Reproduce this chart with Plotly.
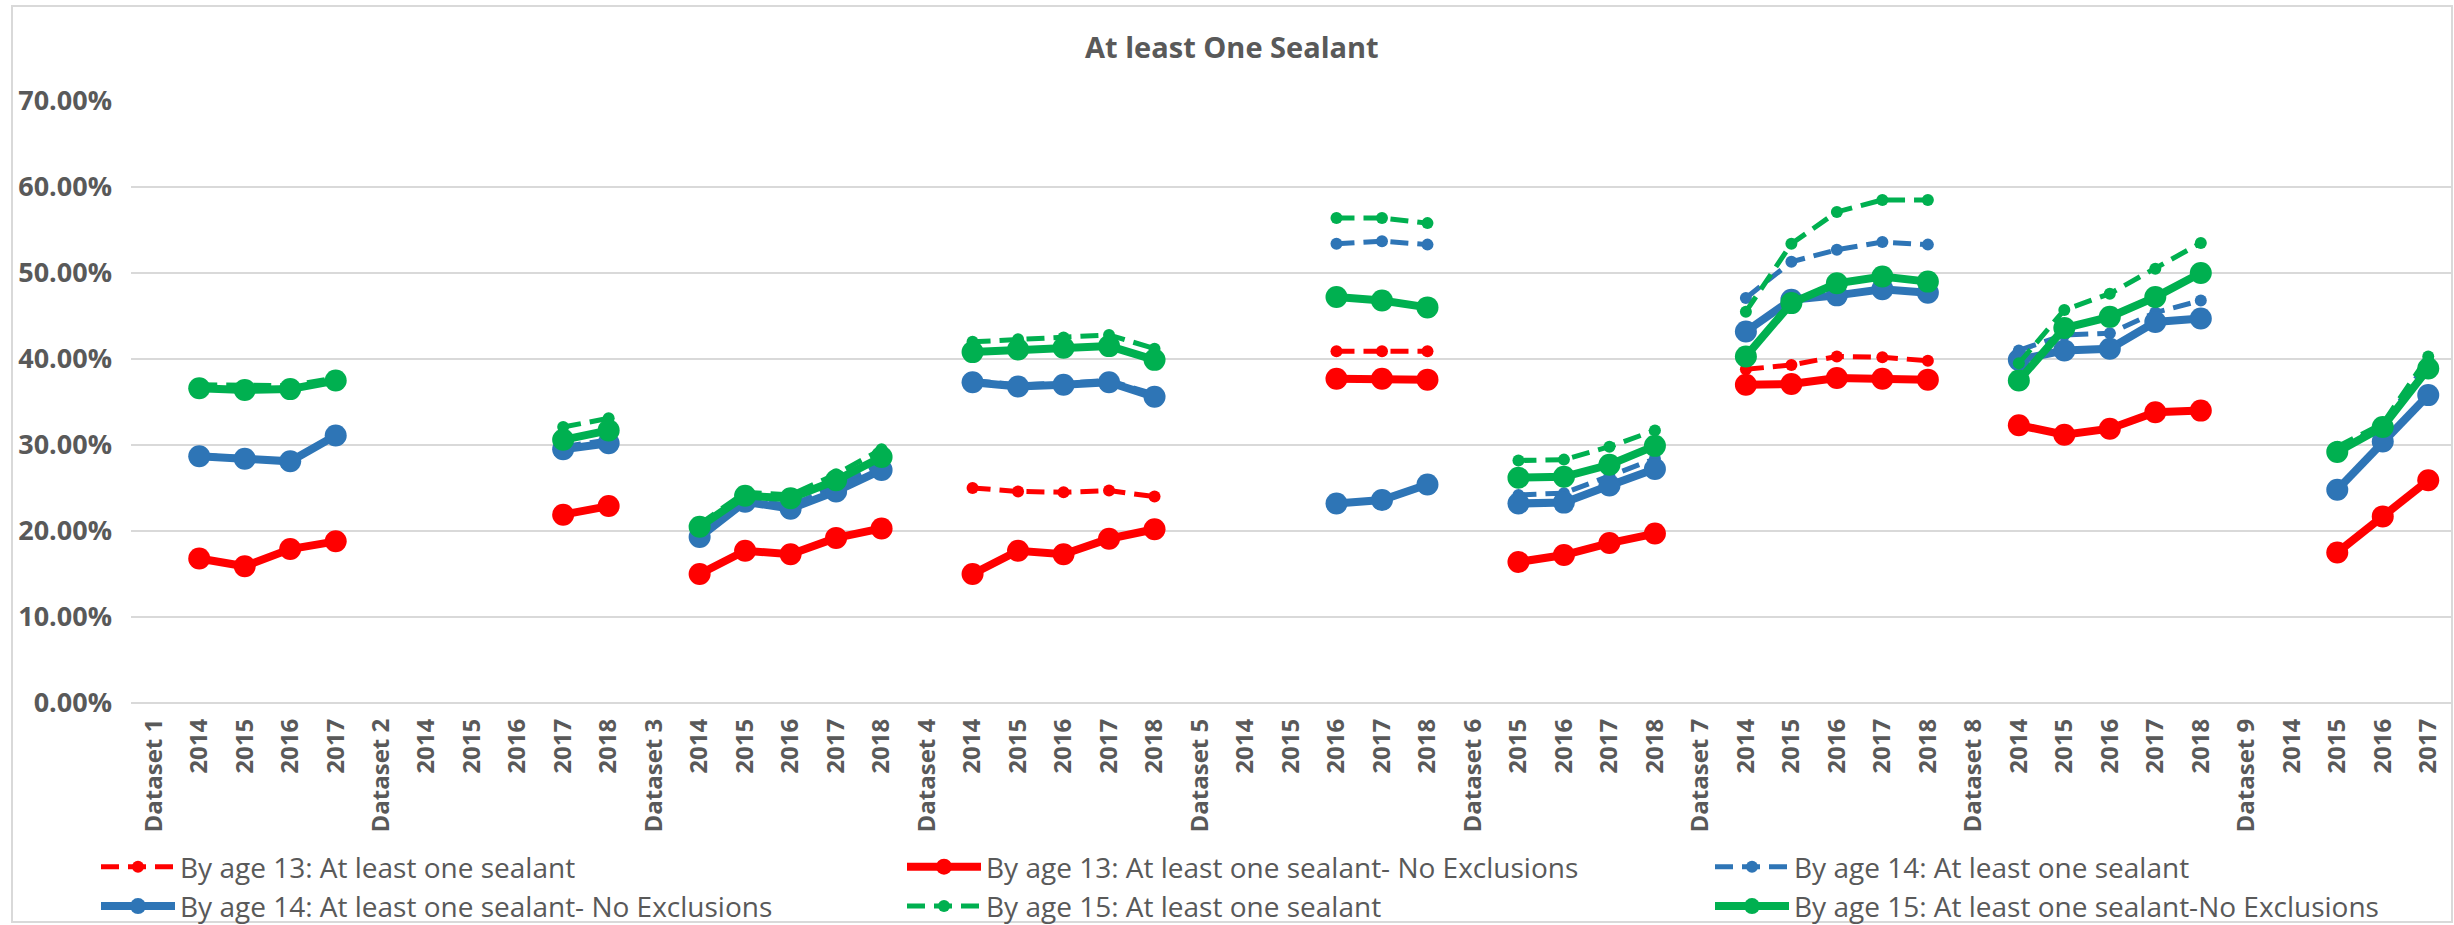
import plotly.graph_objects as go

# X-axis categories: each dataset label followed by its years
categories = [
    "Dataset 1", "2014", "2015", "2016", "2017",
    "Dataset 2", "2014", "2015", "2016", "2017", "2018",
    "Dataset 3", "2014", "2015", "2016", "2017", "2018",
    "Dataset 4", "2014", "2015", "2016", "2017", "2018",
    "Dataset 5", "2014", "2015", "2016", "2017", "2018",
    "Dataset 6", "2015", "2016", "2017", "2018",
    "Dataset 7", "2014", "2015", "2016", "2017", "2018",
    "Dataset 8", "2014", "2015", "2016", "2017", "2018",
    "Dataset 9", "2014", "2015", "2016", "2017",
]

N = None
# Percent values aligned with categories (None = no value / line break)
age13 = [N, N, N, N, N,
         N, N, N, N, N, N,
         N, N, N, N, N, N,
         N, 25.0, 24.6, 24.5, 24.7, 24.0,
         N, N, N, 40.9, 40.9, 40.9,
         N, N, N, N, N,
         N, 38.8, 39.3, 40.3, 40.2, 39.8,
         N, N, N, N, N, N,
         N, N, N, N, N]
age13_noexcl = [N, 16.8, 15.9, 17.9, 18.8,
                N, N, N, N, 21.9, 22.9,
                N, 15.0, 17.7, 17.3, 19.2, 20.3,
                N, 15.0, 17.7, 17.3, 19.1, 20.2,
                N, N, N, 37.7, 37.7, 37.6,
                N, 16.4, 17.2, 18.6, 19.7,
                N, 37.0, 37.1, 37.8, 37.7, 37.6,
                N, 32.3, 31.2, 31.9, 33.8, 34.0,
                N, N, 17.5, 21.7, 25.9]
age14 = [N, 28.8, 28.5, 28.2, 31.2,
         N, N, N, N, 29.8, 30.6,
         N, 19.6, 23.6, 23.0, 25.2, 27.8,
         N, 37.5, 37.0, 37.2, 37.5, 35.9,
         N, N, N, 53.4, 53.7, 53.3,
         N, 24.2, 24.4, 26.4, 28.4,
         N, 47.1, 51.3, 52.7, 53.6, 53.3,
         N, 41.0, 42.8, 43.0, 45.4, 46.8,
         N, N, 29.5, 32.3, 39.8]
age14_noexcl = [N, 28.7, 28.4, 28.1, 31.1,
                N, N, N, N, 29.5, 30.2,
                N, 19.3, 23.4, 22.6, 24.6, 27.1,
                N, 37.3, 36.8, 37.0, 37.3, 35.6,
                N, N, N, 23.2, 23.6, 25.4,
                N, 23.2, 23.3, 25.3, 27.2,
                N, 43.2, 46.9, 47.4, 48.1, 47.7,
                N, 39.9, 41.0, 41.2, 44.3, 44.7,
                N, N, 24.8, 30.4, 35.8]
age15 = [N, 37.0, 36.9, 36.9, 37.8,
         N, N, N, N, 32.1, 33.1,
         N, 20.8, 24.5, 24.2, 26.6, 29.5,
         N, 42.0, 42.3, 42.5, 42.8, 41.2,
         N, N, N, 56.4, 56.4, 55.8,
         N, 28.2, 28.3, 29.8, 31.7,
         N, 45.5, 53.4, 57.1, 58.5, 58.5,
         N, 39.5, 45.7, 47.6, 50.5, 53.5,
         N, N, 29.8, 32.5, 40.3]
age15_noexcl = [N, 36.6, 36.4, 36.5, 37.5,
                N, N, N, N, 30.6, 31.7,
                N, 20.5, 24.1, 23.8, 25.9, 28.6,
                N, 40.8, 41.1, 41.3, 41.5, 39.9,
                N, N, N, 47.2, 46.8, 46.0,
                N, 26.2, 26.3, 27.7, 29.9,
                N, 40.3, 46.5, 48.8, 49.6, 49.0,
                N, 37.5, 43.6, 44.9, 47.2, 50.0,
                N, N, 29.2, 32.1, 38.9]

RED, BLUE, GREEN = "#FF0000", "#2E75B6", "#00B050"
TEXT = "#595959"
FONT = "Open Sans"

W, H = 2454, 925
ML, MR, MT, MB = 131, 3, 101, 222
PW, PH = W - ML - MR, H - MT - MB

x = list(range(len(categories)))

series = [
    ("By age 13: At least one sealant", age13, RED, True, "legend"),
    ("By age 13: At least one sealant- No Exclusions", age13_noexcl, RED, False, "legend2"),
    ("By age 14: At least one sealant", age14, BLUE, True, "legend3"),
    ("By age 14: At least one sealant- No Exclusions", age14_noexcl, BLUE, False, "legend"),
    ("By age 15: At least one sealant", age15, GREEN, True, "legend2"),
    ("By age 15: At least one sealant-No Exclusions", age15_noexcl, GREEN, False, "legend3"),
]

fig = go.Figure()
for name, vals, color, dashed, leg in series:
    if dashed:
        line = dict(color=color, width=5, dash="18px,9px")
        marker = dict(color=color, size=12, symbol="circle")
    else:
        line = dict(color=color, width=8)
        marker = dict(color=color, size=22, symbol="circle")
    fig.add_trace(go.Scatter(
        x=x, y=vals, name=name, mode="lines+markers",
        line=line, marker=marker, connectgaps=False, legend=leg,
    ))

def px_to_paper_x(px):
    return (px - ML) / PW

def px_to_paper_y(py):
    return (H - MB - py) / PH

legend_common = dict(
    orientation="v", xanchor="left", yanchor="top",
    y=px_to_paper_y(842), font=dict(family=FONT, size=28, color=TEXT),
    itemwidth=74, tracegroupgap=0, bgcolor="rgba(0,0,0,0)",
)

fig.update_layout(
    width=W, height=H,
    margin=dict(l=ML, r=MR, t=MT, b=MB, autoexpand=False),
    paper_bgcolor="white", plot_bgcolor="white",
    title=dict(text="At least One Sealant", x=0.502, xref="container",
               y=1 - 48 / H, yanchor="middle", xanchor="center",
               font=dict(family=FONT, size=29, color=TEXT, weight="bold")),
    xaxis=dict(
        range=[-0.5, len(categories) - 0.5], tickmode="array",
        tickvals=x, ticktext=categories, tickangle=-90,
        tickfont=dict(family=FONT, size=24, color=TEXT, weight="bold"),
        showgrid=False, zeroline=False, showline=False, ticks="",
        ticklabelstandoff=10,
    ),
    yaxis=dict(
        range=[0, 70], dtick=10, tickformat=".2f", ticksuffix="%",
        tickfont=dict(family=FONT, size=27, color=TEXT, weight="bold"),
        showgrid=True, gridcolor="#D9D9D9", gridwidth=2,
        zeroline=True, zerolinecolor="#D9D9D9", zerolinewidth=2,
        showline=False, ticks="", ticklabelstandoff=18,
    ),
    legend=dict(legend_common, x=px_to_paper_x(96)),
    legend2=dict(legend_common, x=px_to_paper_x(902)),
    legend3=dict(legend_common, x=px_to_paper_x(1710)),
    showlegend=True,
    shapes=[dict(
        type="rect", xref="paper", yref="paper",
        x0=px_to_paper_x(12), x1=px_to_paper_x(2452),
        y0=px_to_paper_y(922), y1=px_to_paper_y(6),
        line=dict(color="#D9D9D9", width=2), fillcolor="rgba(0,0,0,0)",
        layer="below",
    )],
)

fig.write_html("out.html")
